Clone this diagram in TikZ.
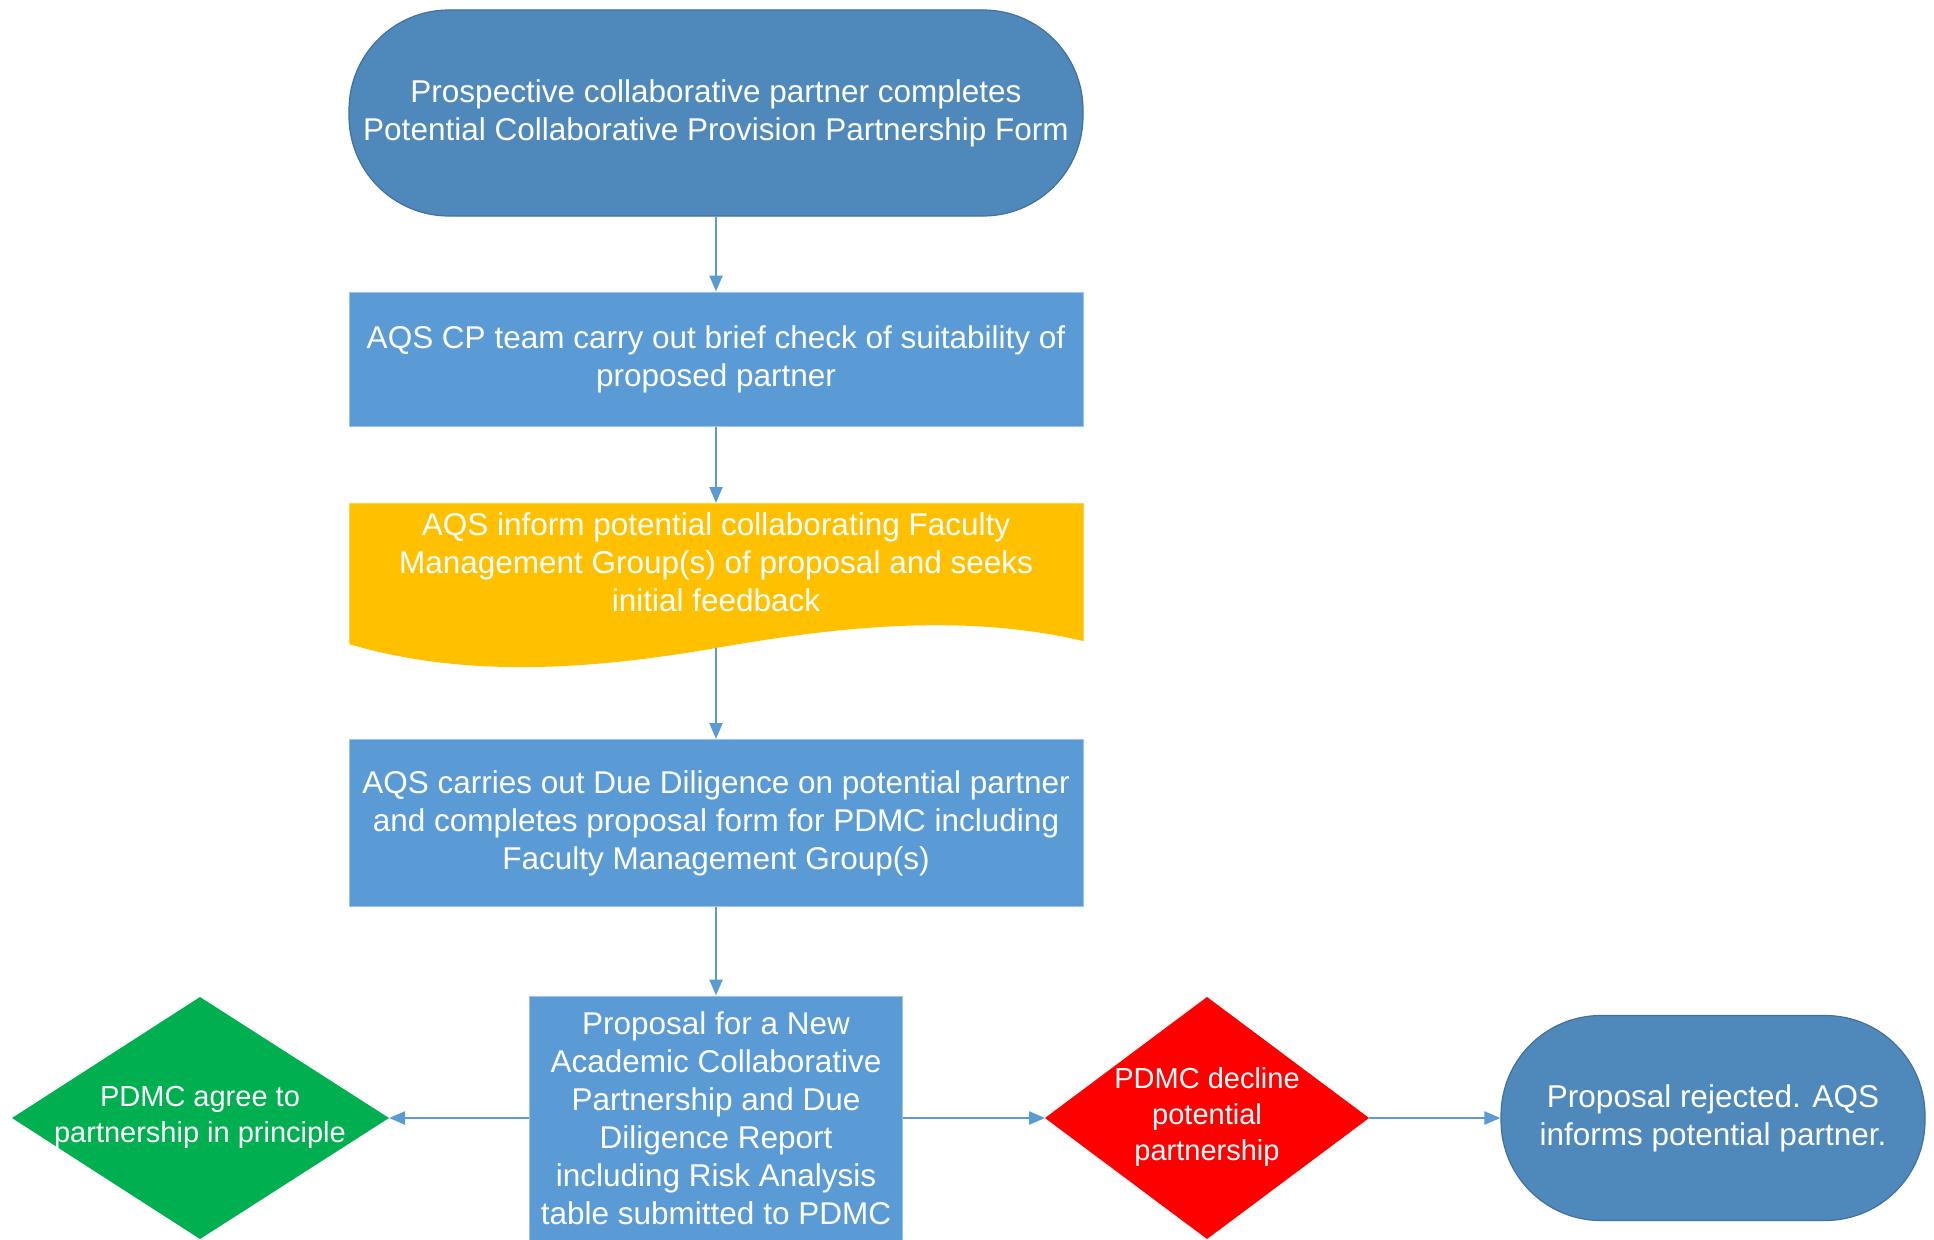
\documentclass[tikz,border=0pt]{standalone}
\usepackage{fontspec}
\setmainfont{Liberation Sans}
\usetikzlibrary{arrows.meta,shapes.geometric}
\definecolor{termblue}{HTML}{4F88BB}
\definecolor{boxblue}{HTML}{5B9BD5}
\definecolor{termedge}{HTML}{41719C}
\definecolor{docyellow}{HTML}{FFC000}
\definecolor{okgreen}{HTML}{00B050}
\definecolor{nored}{HTML}{FF0000}
\begin{document}
\begin{tikzpicture}[x=1pt,y=1pt,
 txt/.style={text=white, align=center, font=\fontsize{31.5}{38}\selectfont},
 term/.style={txt, fill=termblue, draw=termedge, line width=1.2pt, rounded corners=100pt, inner sep=0pt},
 procbox/.style={txt, fill=boxblue, draw=boxblue!60!white, line width=1pt, inner sep=0pt},
 diatxt/.style={txt, inner sep=0pt, font=\fontsize{29}{36}\selectfont},
 conn/.style={draw=boxblue, line width=2.2pt, -{Triangle[width=13pt,length=16pt]}}
]
\useasboundingbox (0,0) rectangle (1934,-1239);

\node[term, minimum width=734pt, minimum height=206pt] (start) at (716,-113)
  {Prospective collaborative partner completes\\Potential Collaborative Provision Partnership Form};

\node[procbox, minimum width=734pt, minimum height=134pt] (check) at (716,-359)
  {AQS CP team carry out brief check of suitability of\\proposed partner};

% document (wave) shape
\fill[docyellow] (349,-503) -- (1083,-503) -- (1083,-641)
  .. controls (960,-612) and (830,-628) .. (716,-648)
  .. controls (600,-668) and (470,-680) .. (349,-644) -- cycle;
\draw[docyellow!70!white, line width=0.8pt] (349,-644) -- (349,-503) -- (1083,-503) -- (1083,-641);
\coordinate (docTop) at (716,-503);
\coordinate (docBot) at (716,-648);
\node[txt] (inform) at (716,-562)
  {AQS inform potential collaborating Faculty\\Management Group(s) of proposal and seeks\\initial feedback};

\node[procbox, minimum width=734pt, minimum height=167pt] (due) at (716,-823)
  {AQS carries out Due Diligence on potential partner\\and completes proposal form for PDMC including\\Faculty Management Group(s)};

\node[procbox, minimum width=373pt, minimum height=244pt] (report) at (716,-1118)
  {Proposal for a New\\Academic Collaborative\\Partnership and Due\\Diligence Report\\including Risk Analysis\\table submitted to PDMC};

% green diamond
\coordinate (agreeE) at (389,-1118);
\fill[okgreen] (12,-1118) -- (200,-997) -- (agreeE) -- (200,-1239) -- cycle;
\node[diatxt] (agree) at (200,-1117) {PDMC agree to\\partnership in principle};

% red diamond
\coordinate (declineW) at (1045,-1118);
\coordinate (declineE) at (1369,-1118);
\fill[nored] (declineW) -- (1207,-997) -- (declineE) -- (1207,-1239) -- cycle;
\node[diatxt] (decline) at (1207,-1117) {PDMC decline\\potential\\partnership};

\node[term, minimum width=424pt, minimum height=205pt] (rejected) at (1713,-1118)
  {Proposal rejected. AQS\\informs potential partner.};

\draw[conn] (start.south) -- (check.north);
\draw[conn] (check.south) -- (docTop);
\draw[conn] (docBot) -- (due.north);
\draw[conn] (due.south) -- (report.north);
\draw[conn] (report.west) -- (agreeE);
\draw[conn] (report.east) -- (declineW);
\draw[conn] (declineE) -- (rejected.west);
\end{tikzpicture}
\end{document}
